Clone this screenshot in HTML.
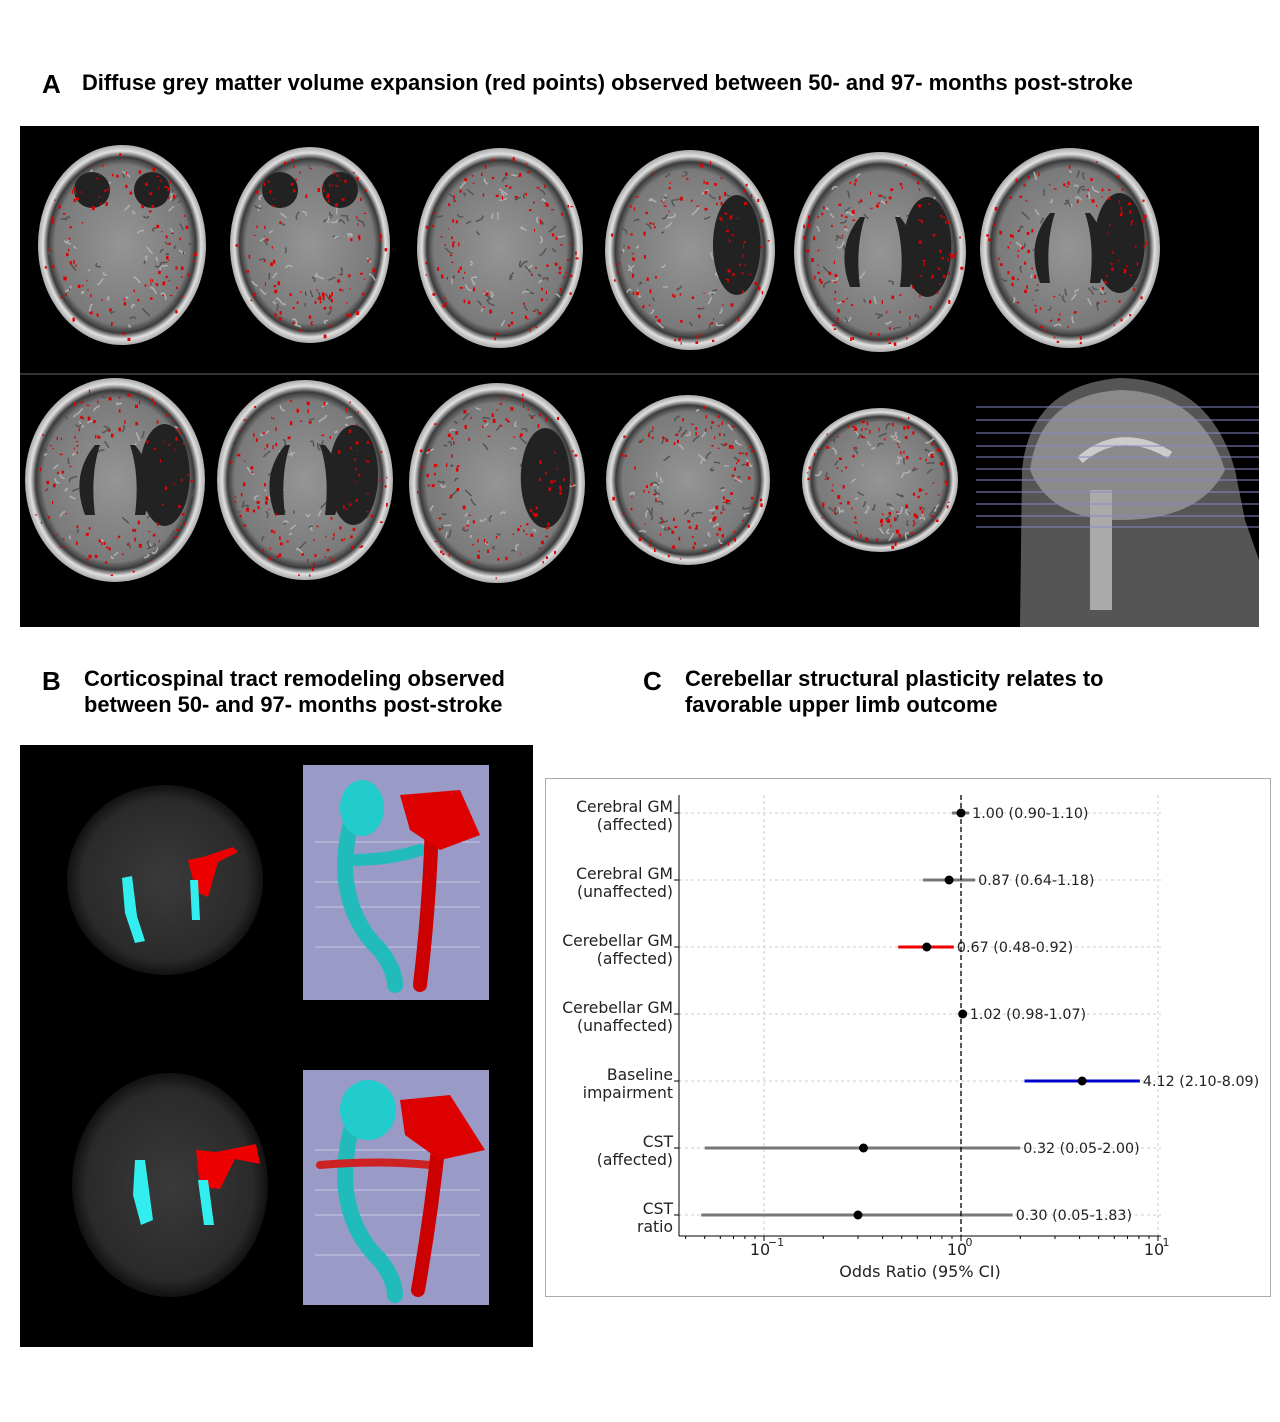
<!DOCTYPE html>
<html><head><meta charset="utf-8">
<style>
body{margin:0;background:#fff;width:1280px;height:1422px;position:relative;overflow:hidden;font-family:"Liberation Sans",Arial,sans-serif}
.t{position:absolute;font-weight:bold;color:#000}
.L{font-size:26px}
.h{font-size:21.9px;line-height:26px}
svg{position:absolute;left:0;top:0}
</style></head><body>
<div class="t L" style="left:42px;top:69px">A</div>
<div class="t h" style="left:82px;top:70px">Diffuse grey matter volume expansion (red points) observed between 50- and 97- months post-stroke</div>
<div class="t L" style="left:42px;top:666px">B</div>
<div class="t h" style="left:84px;top:666px">Corticospinal tract remodeling observed<br>between 50- and 97- months post-stroke</div>
<div class="t L" style="left:643px;top:666px">C</div>
<div class="t h" style="left:685px;top:666px">Cerebellar structural plasticity relates to<br>favorable upper limb outcome</div>

<svg id="s" width="1280" height="1422" xmlns="http://www.w3.org/2000/svg">
<defs>
<radialGradient id="br" cx="50%" cy="50%" r="50%">
<stop offset="0" stop-color="#959595"/><stop offset="0.8" stop-color="#7a7a7a"/><stop offset="0.88" stop-color="#3a3a3a"/><stop offset="0.94" stop-color="#e0e0e0"/><stop offset="1" stop-color="#aaa"/>
</radialGradient>
<radialGradient id="dt" cx="50%" cy="50%" r="50%">
<stop offset="0" stop-color="#3a3a3a"/><stop offset="0.85" stop-color="#2a2a2a"/><stop offset="1" stop-color="#111"/>
</radialGradient>
</defs>
<rect x="20" y="126" width="1239" height="501" fill="#000"/>
<line x1="20" y1="374" x2="1259" y2="374" stroke="#666" stroke-width="1"/>
<g id="brainsA"></g>
<g>
<path d="M1020 627 L1022 470 Q1030 385 1120 378 Q1210 380 1235 470 L1245 520 L1259 560 L1259 627 Z" fill="#555"/>
<path d="M1030 470 Q1040 395 1120 390 Q1200 392 1225 470 Q1200 520 1120 520 Q1050 520 1030 470Z" fill="#8a8a8a"/>
<path d="M1080 460 Q1120 425 1170 455" stroke="#ccc" stroke-width="8" fill="none"/>
<rect x="1090" y="490" width="22" height="120" fill="#aaa"/>
<g stroke="#8888cc" stroke-width="1">
<line x1="976" y1="407" x2="1259" y2="407"/><line x1="976" y1="420" x2="1259" y2="420"/><line x1="976" y1="433" x2="1259" y2="433"/><line x1="976" y1="446" x2="1259" y2="446"/><line x1="976" y1="457" x2="1259" y2="457"/><line x1="976" y1="469" x2="1259" y2="469"/><line x1="976" y1="480" x2="1259" y2="480"/><line x1="976" y1="492" x2="1259" y2="492"/><line x1="976" y1="504" x2="1259" y2="504"/><line x1="976" y1="516" x2="1259" y2="516"/><line x1="976" y1="527" x2="1259" y2="527"/>
</g>
</g>

<rect x="20" y="745" width="513" height="602" fill="#000"/>
<ellipse cx="165" cy="880" rx="98" ry="95" fill="url(#dt)"/>
<ellipse cx="170" cy="1185" rx="98" ry="112" fill="url(#dt)"/>
<path d="M122 878 l10 -2 l5 40 l8 25 l-10 2 l-10 -30z" fill="#3ee"/>
<path d="M188 860 l15 -3 l30 -10 l5 5 l-20 10 l-10 35 l-12 -5z" fill="#e00"/>
<path d="M190 880 l8 0 l2 40 l-8 0z" fill="#3ee"/>
<path d="M135 1160 l10 0 l8 60 l-12 5 l-8 -30z" fill="#3ee"/>
<path d="M196 1150 l20 2 l40 -8 l4 20 l-25 -5 l-15 30 l-20 -2z" fill="#e00"/>
<path d="M198 1180 l10 0 l6 45 l-10 0z" fill="#3ee"/>
<rect x="303" y="765" width="186" height="235" fill="#9a9ac6"/>
<rect x="303" y="1070" width="186" height="235" fill="#9a9ac6"/>
<g stroke="#c8c8e6" stroke-width="1"><line x1="315" y1="842" x2="480" y2="842"/><line x1="315" y1="882" x2="480" y2="882"/><line x1="315" y1="907" x2="480" y2="907"/><line x1="315" y1="947" x2="480" y2="947"/><line x1="315" y1="1150" x2="480" y2="1150"/><line x1="315" y1="1190" x2="480" y2="1190"/><line x1="315" y1="1215" x2="480" y2="1215"/><line x1="315" y1="1255" x2="480" y2="1255"/></g>
<g fill="none" stroke-linecap="round">
<path d="M360 800 Q345 830 345 870 Q348 920 380 950 Q395 970 395 985" stroke="#2bb" stroke-width="16"/>
<path d="M350 860 Q390 860 420 850" stroke="#2bb" stroke-width="12"/>
<path d="M432 820 Q430 900 420 985" stroke="#c00" stroke-width="14"/>
<path d="M360 1100 Q345 1140 345 1180 Q348 1230 380 1260 Q395 1280 395 1295" stroke="#2bb" stroke-width="16"/>
<path d="M320 1165 Q380 1160 430 1165" stroke="#c22" stroke-width="8"/>
<path d="M440 1130 Q432 1210 418 1290" stroke="#c00" stroke-width="14"/>
</g>
<ellipse cx="362" cy="808" rx="22" ry="28" fill="#2cc"/>
<path d="M400 795 L460 790 L480 835 L440 850 L410 830Z" fill="#d00"/>
<ellipse cx="368" cy="1110" rx="28" ry="30" fill="#2cc"/>
<path d="M400 1100 L450 1095 L485 1150 L440 1160 L405 1135Z" fill="#d00"/>

<rect x="545.5" y="778.5" width="725" height="518" fill="#fff" stroke="#aaa"/>
<g id="plot"></g>
</svg>
<script>
var NS="http://www.w3.org/2000/svg";
function el(p,t,a,txt){var e=document.createElementNS(NS,t);for(var k in a)e.setAttribute(k,a[k]);if(txt)e.textContent=txt;p.appendChild(e);return e;}
var seed=7;function r(){seed=(seed*16807)%2147483647;return seed/2147483647;}
var g=document.getElementById("brainsA");
var A=[[122,245,84,100],[310,245,80,98],[500,248,83,100],[690,250,85,100],[880,252,86,100],[1070,248,90,100],[115,480,90,102],[305,480,88,100],[497,483,88,100],[688,480,82,85],[880,480,78,72]];
A.forEach(function(b,i){
el(g,"ellipse",{cx:b[0],cy:b[1],rx:b[2],ry:b[3],fill:"url(#br)"});
for(var k=0;k<60;k++){var a=r()*6.283,d=0.3+0.55*r();var x=b[0]+Math.cos(a)*b[2]*d,y=b[1]+Math.sin(a)*b[3]*d;el(g,"path",{d:"M"+x+" "+y+" q"+(r()*10-5)+" "+(r()*10-5)+" "+(r()*14-7)+" "+(r()*14-7),stroke:r()<0.5?"#555":"#b0b0b0","stroke-width":1.5,fill:"none"});}
if(i>=4&&i<8){el(g,"path",{d:"M"+(b[0]-20)+" "+(b[1]-35)+" q-25 30 -10 70 l10 0 q-5 -40 5 -70z",fill:"#222"});el(g,"path",{d:"M"+(b[0]+20)+" "+(b[1]-35)+" q25 30 10 70 l-10 0 q5 -40 -5 -70z",fill:"#222"});}
if(i>=3&&i<9){el(g,"ellipse",{cx:b[0]+b[2]*0.55,cy:b[1]-5,rx:b[2]*0.28,ry:b[3]*0.5,fill:"#222"});}
if(i<2){el(g,"circle",{cx:b[0]-30,cy:b[1]-55,r:18,fill:"#222"});el(g,"circle",{cx:b[0]+30,cy:b[1]-55,r:18,fill:"#222"});}
for(var k=0;k<110;k++){var a=r()*6.283,d=0.45+0.5*r();el(g,"rect",{x:b[0]+Math.cos(a)*b[2]*d,y:b[1]+Math.sin(a)*b[3]*d,width:1+r()*2,height:1+r()*3,fill:"#d00"});}
});
var p=document.getElementById("plot");
function X(v){return 961+197*Math.log10(v);}
var F="DejaVu Sans, sans-serif";
[764,961,1158].forEach(function(x){el(p,"line",{x1:x,y1:795,x2:x,y2:1236,stroke:"#ccc","stroke-dasharray":"3,3"});});
var R=[["Cerebral GM","(affected)",1.00,0.90,1.10,"#777","1.00 (0.90-1.10)"],["Cerebral GM","(unaffected)",0.87,0.64,1.18,"#777","0.87 (0.64-1.18)"],["Cerebellar GM","(affected)",0.67,0.48,0.92,"#e00","0.67 (0.48-0.92)"],["Cerebellar GM","(unaffected)",1.02,0.98,1.07,"#777","1.02 (0.98-1.07)"],["Baseline","impairment",4.12,2.10,8.09,"#00c","4.12 (2.10-8.09)"],["CST","(affected)",0.32,0.05,2.00,"#777","0.32 (0.05-2.00)"],["CST","ratio",0.30,0.048,1.83,"#777","0.30 (0.05-1.83)"]];
R.forEach(function(d,i){var y=813+67*i;
el(p,"line",{x1:679,y1:y,x2:1161,y2:y,stroke:"#ccc","stroke-dasharray":"3,3"});
el(p,"line",{x1:674,y1:y,x2:679,y2:y,stroke:"#000"});
el(p,"line",{x1:X(d[3]),y1:y,x2:X(d[4]),y2:y,stroke:d[5],"stroke-width":3});
el(p,"circle",{cx:X(d[2]),cy:y,r:4.5,fill:"#000"});
el(p,"text",{x:X(d[4])+3,y:y+5,"font-size":"14.3","font-family":F,fill:"#222"},d[6]);
el(p,"text",{x:673,y:y-1,"font-size":"15.6","text-anchor":"end","font-family":F,fill:"#222"},d[0]);
el(p,"text",{x:673,y:y+17,"font-size":"15.6","text-anchor":"end","font-family":F,fill:"#222"},d[1]);
});
el(p,"line",{x1:961,y1:795,x2:961,y2:1236,stroke:"#000","stroke-dasharray":"5,3","stroke-width":1.3});
el(p,"line",{x1:679,y1:795,x2:679,y2:1236,stroke:"#000"});
el(p,"line",{x1:679,y1:1236,x2:1161,y2:1236,stroke:"#000"});
for(var e=-2;e<=1;e++)for(var m=1;m<10;m++){var v=Math.pow(10,e)*m,x=X(v);if(x<679||x>1161)continue;el(p,"line",{x1:x,y1:1236,x2:x,y2:m==1?1241:1239,stroke:"#000"});}
[[764,"−1"],[961,"0"],[1158,"1"]].forEach(function(t){el(p,"text",{x:t[0]-4,y:1255,"font-size":"16","text-anchor":"middle","font-family":F,fill:"#222"},"10");el(p,"text",{x:t[0]+(t[1].length>1?12:8),y:1246,"font-size":"11","text-anchor":"middle","font-family":F,fill:"#222"},t[1]);});
el(p,"text",{x:920,y:1277,"font-size":"16","text-anchor":"middle","font-family":F,fill:"#222"},"Odds Ratio (95% CI)");
</script>
</body></html>
